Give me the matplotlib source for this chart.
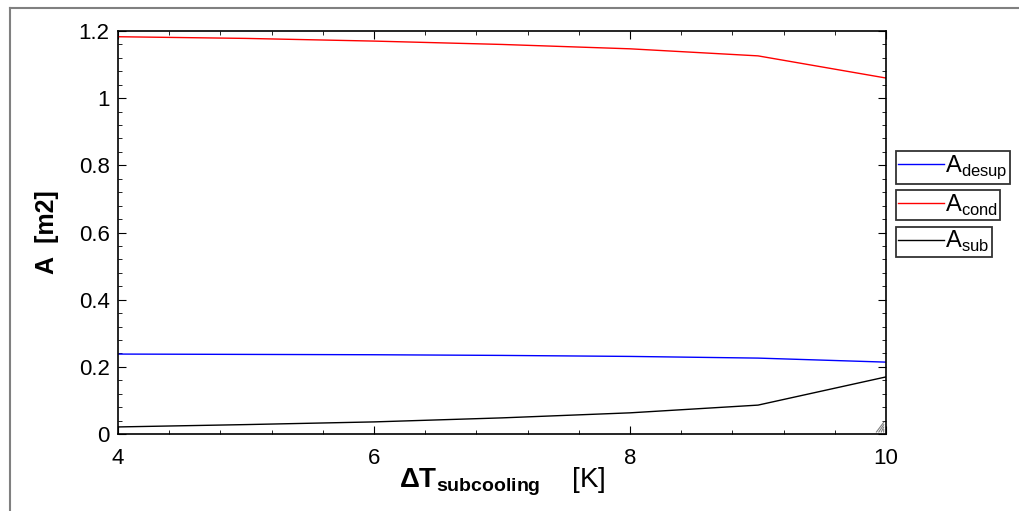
import matplotlib.pyplot as plt
from matplotlib.lines import Line2D
from matplotlib.ticker import MultipleLocator

plt.rcParams['font.family'] = ['Liberation Sans', 'DejaVu Sans']
plt.rcParams['mathtext.fontset'] = 'custom'
plt.rcParams['mathtext.rm'] = 'Liberation Sans'
plt.rcParams['mathtext.bf'] = 'Liberation Sans:bold'

dT_sub = [4, 5, 6, 7, 8, 9, 10]
A_desup = [0.238, 0.237, 0.236, 0.234, 0.231, 0.226, 0.214]
A_cond = [1.183, 1.178, 1.170, 1.160, 1.147, 1.126, 1.060]
A_sub = [0.021, 0.028, 0.036, 0.048, 0.063, 0.086, 0.170]

series = [
    (A_desup, 'blue', 'desup'),
    (A_cond, 'red', 'cond'),
    (A_sub, 'black', 'sub'),
]

fig = plt.figure(figsize=(10.19, 5.11), dpi=100)
ax = fig.add_axes([0.1158, 0.1507, 0.7537, 0.7886])

for vals, col, name in series:
    ax.plot(dT_sub, vals, color=col, lw=1)

ax.set_xlim(4, 10)
ax.set_ylim(0, 1.2)
ax.xaxis.set_major_locator(MultipleLocator(2))
ax.xaxis.set_minor_locator(MultipleLocator(0.4))
ax.yaxis.set_major_locator(MultipleLocator(0.2))
ax.yaxis.set_minor_locator(MultipleLocator(0.04))
ax.yaxis.set_major_formatter(plt.FuncFormatter(lambda v, p: f'{v:g}'))
ax.tick_params(which='both', direction='in', top=True, right=True, labelsize=16)
ax.tick_params(axis='x', pad=10)
ax.tick_params(axis='y', pad=6)
ax.tick_params(which='major', length=6)
ax.tick_params(which='minor', length=3)
for s in ax.spines.values():
    s.set_linewidth(1.2)

ax.set_ylabel('A  [m2]', fontsize=18, fontweight='bold', labelpad=14)
ax.set_xlabel(r'$\mathbf{\Delta T_{subcooling}}$    [K]', fontsize=20, labelpad=-2)

# small resize grip in the lower right corner
for k in range(4):
    d = 0.004 + k * 0.004
    ax.plot([1 - d * 0.78, 0.997], [0.005, 0.005 + d * 1.5], transform=ax.transAxes,
            color='gray', lw=0.8, clip_on=False)

# one boxed legend entry per series, outside the plot on the right
box_y = [0.672, 0.599, 0.527]
for (vals, col, name), yb in zip(series, box_y):
    leg = fig.legend([Line2D([], [], color=col, lw=1)], [rf'A$_{{\mathrm{{{name}}}}}$'],
                     loc='center left', bbox_to_anchor=(0.879, yb), fontsize=17,
                     frameon=True, fancybox=False, handlelength=1.95, handletextpad=0.05,
                     borderpad=0.1, borderaxespad=0)
    leg.get_frame().set_edgecolor('black')
    leg.get_frame().set_linewidth(1.3)

# outer window frame
fig.add_artist(Line2D([0.0098, 0.0098], [0, 0.984], color='gray', lw=1.5))
fig.add_artist(Line2D([0.0098, 1], [0.984, 0.984], color='gray', lw=1.5))

fig.savefig('out.png', dpi=100)
